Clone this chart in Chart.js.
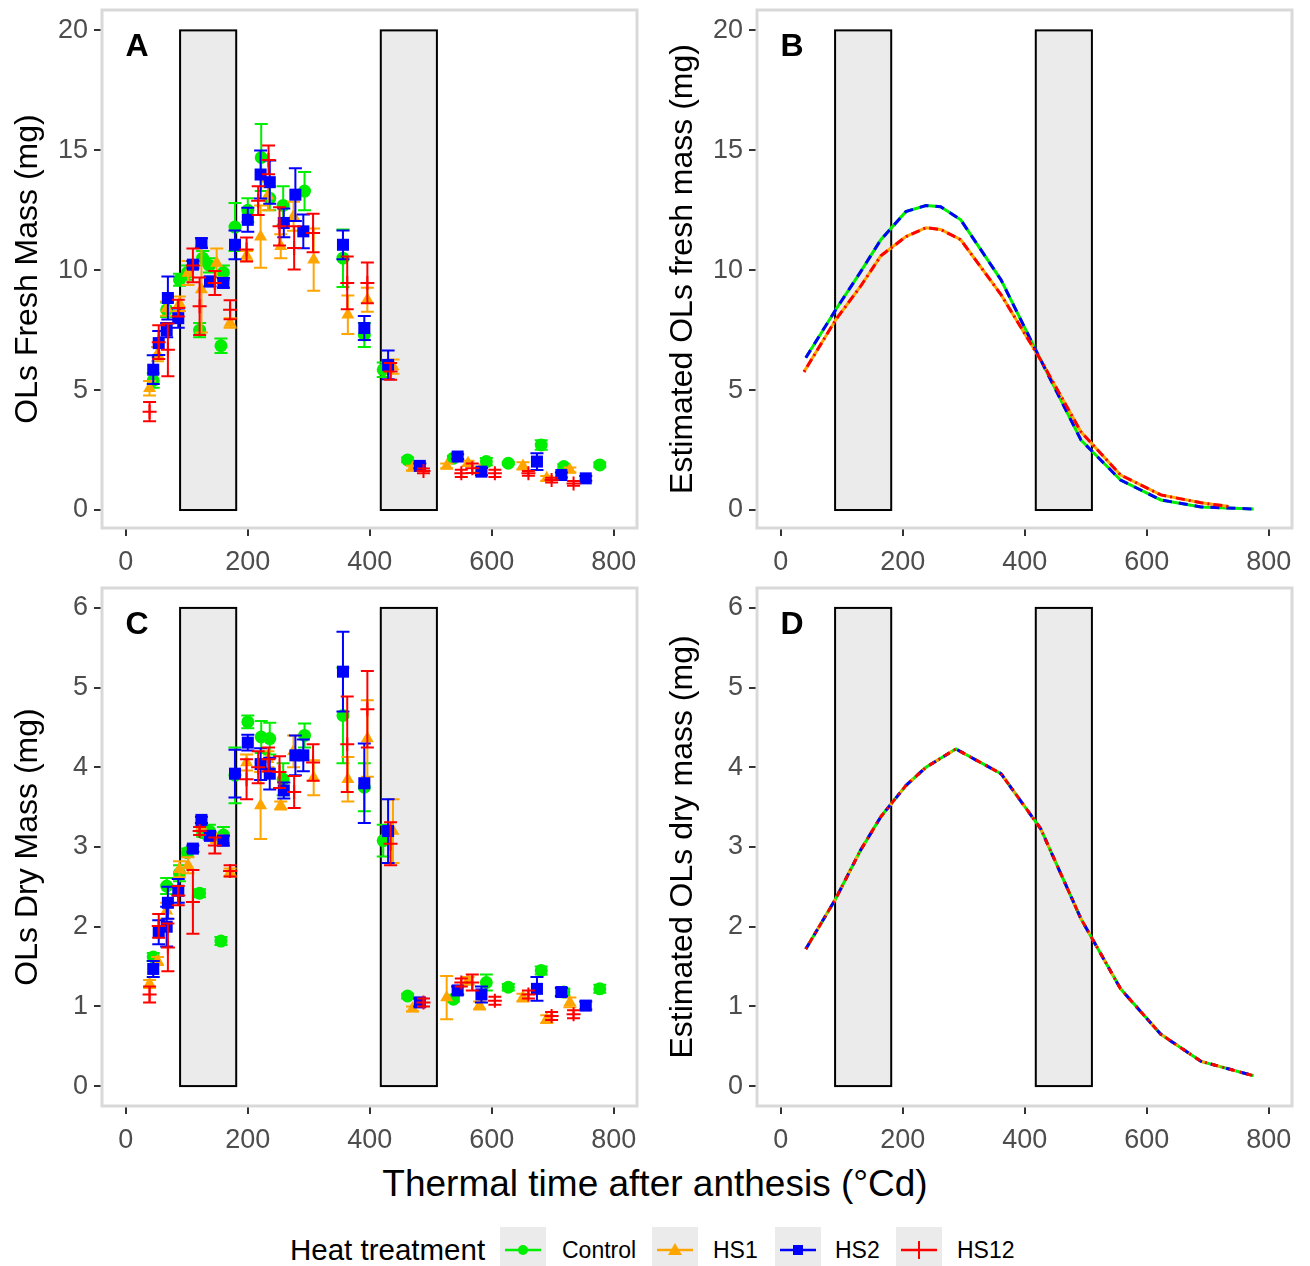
<!DOCTYPE html>
<html>
<head>
<meta charset="utf-8">
<script src="https://cdn.jsdelivr.net/npm/chart.js@4.4.0/dist/chart.umd.min.js"></script>
<style>
  body { margin: 0; background: #fff; width: 1310px; height: 1266px; position: relative; overflow: hidden;
         font-family: 'Liberation Sans', Arial, sans-serif; }
  .panel { position: absolute; width: 655px; height: 580px; }
  #xTitle { position: absolute; left: 0; width: 1310px; top: 1163px; text-align: center; font-size: 37px; color: #000; }
  .lg { position: absolute; top: 1250px; transform: translateY(-50%); white-space: nowrap; color: #000; }
  .key { position: absolute; top: 1227px; width: 46px; height: 46px; background: #ebebeb; }
</style>
</head>
<body>
<div class="panel" style="left:0;top:0"><canvas id="panelA"></canvas></div>
<div class="panel" style="left:655px;top:0"><canvas id="panelB"></canvas></div>
<div class="panel" style="left:0;top:580px"><canvas id="panelC"></canvas></div>
<div class="panel" style="left:655px;top:580px"><canvas id="panelD"></canvas></div>
<div id="xTitle">Thermal time after anthesis (°Cd)</div>

<div class="lg" style="left:290px;font-size:29.5px">Heat treatment</div>
<div class="key" style="left:500px"><svg width="46" height="46"><line x1="5" y1="23" x2="41" y2="23" stroke="#00ee00" stroke-width="2.5"/><circle cx="23" cy="23" r="5" fill="#00ee00"/></svg></div>
<div class="lg" style="left:562px;font-size:23px">Control</div>
<div class="key" style="left:652px"><svg width="46" height="46"><line x1="5" y1="23" x2="41" y2="23" stroke="#ffa500" stroke-width="2.5"/><polygon points="23,16 30,28 16,28" fill="#ffa500"/></svg></div>
<div class="lg" style="left:713px;font-size:23px">HS1</div>
<div class="key" style="left:775px"><svg width="46" height="46"><line x1="5" y1="23" x2="41" y2="23" stroke="#0000ff" stroke-width="2.5"/><rect x="18" y="18" width="10" height="10" fill="#0000ff"/></svg></div>
<div class="lg" style="left:835px;font-size:23px">HS2</div>
<div class="key" style="left:896px"><svg width="46" height="46"><line x1="5" y1="23" x2="41" y2="23" stroke="#ff0000" stroke-width="2.5"/><line x1="23" y1="14" x2="23" y2="32" stroke="#ff0000" stroke-width="2"/></svg></div>
<div class="lg" style="left:957px;font-size:23px">HS12</div>

<script>
const family = "'Liberation Sans', Arial, sans-serif";

// heat stress windows (°Cd)
const stressStart = [89, 418];
const stressEnd = [181, 510];

const xTicks = [0, 200, 400, 600, 800];
const freshTicks = [0, 5, 10, 15, 20];
const dryTicks = [0, 1, 2, 3, 4, 5, 6];

// observed values: thermal time, mean, standard error
const timeCtrl = [45, 67, 88, 101, 121, 126, 137, 156, 160, 179, 200, 222, 236, 258, 293, 356, 391, 422, 462, 537, 591, 627, 681, 718, 777];
const freshCtrl = [5.4, 8.35, 9.6, 9.9, 7.5, 10.5, 10.2, 6.85, 9.9, 11.8, 12.5, 14.7, 13.0, 12.7, 13.3, 10.5, 7.3, 5.85, 2.09, 2.16, 2.02, 1.95, 2.71, 1.81, 1.88];
const freshCtrlSe = [0.3, 0.3, 0.25, 0.3, 0.3, 0.3, 0.3, 0.3, 0.3, 1.0, 0.5, 1.4, 0.5, 0.8, 0.8, 1.2, 0.5, 0.3, 0.1, 0.1, 0.15, 0.05, 0.2, 0.1, 0.1];
const dryCtrl = [1.62, 2.51, 2.67, 2.93, 2.42, 3.18, 3.2, 1.82, 3.15, 3.9, 4.57, 4.38, 4.36, 3.85, 4.4, 4.65, 3.75, 3.08, 1.13, 1.09, 1.3, 1.24, 1.45, 1.18, 1.22];
const dryCtrlSe = [0.05, 0.1, 0.1, 0.05, 0.05, 0.05, 0.08, 0.05, 0.1, 0.35, 0.08, 0.2, 0.2, 0.2, 0.15, 0.6, 0.3, 0.2, 0.03, 0.03, 0.1, 0.04, 0.05, 0.04, 0.05];

const timeHS1 = [39, 52, 67, 88, 102, 124, 149, 171, 198, 221, 233, 254, 275, 308, 364, 396, 438, 470, 526, 561, 580, 651, 690, 728];
const freshHS1 = [5.08, 6.5, 8.4, 8.6, 9.88, 9.2, 10.3, 7.8, 10.6, 11.4, 13.1, 11.0, 12.25, 10.44, 8.14, 8.77, 5.98, 1.75, 1.84, 1.95, 1.65, 1.84, 1.32, 1.67];
const freshHS1Se = [0.3, 0.3, 0.3, 0.3, 0.5, 1.8, 0.6, 0.2, 0.2, 1.3, 0.6, 0.5, 0.6, 1.3, 0.8, 0.5, 0.3, 0.1, 0.1, 0.1, 0.1, 0.15, 0.1, 0.1];
const dryHS1 = [1.28, 1.57, 2.2, 2.72, 2.77, 3.25, 3.1, 2.68, 4.06, 3.52, 4.1, 3.52, 4.2, 3.87, 3.85, 4.36, 3.2, 0.97, 1.11, 1.32, 1.01, 1.11, 0.84, 1.05];
const dryHS1Se = [0.05, 0.05, 0.1, 0.1, 0.1, 0.05, 0.05, 0.05, 0.1, 0.42, 0.1, 0.05, 0.2, 0.22, 0.28, 0.48, 0.4, 0.03, 0.27, 0.05, 0.05, 0.05, 0.05, 0.06];

const timeHS2 = [45, 54, 67, 69, 86, 110, 124, 138, 160, 179, 200, 221, 236, 259, 278, 291, 356, 391, 430, 482, 544, 583, 674, 714, 754];
const freshHS2 = [5.85, 6.96, 7.5, 8.84, 8.0, 10.23, 11.13, 9.53, 9.47, 11.06, 12.1, 13.99, 13.67, 11.97, 13.15, 11.62, 11.06, 7.59, 6.05, 1.84, 2.23, 1.6, 2.02, 1.46, 1.32];
const freshHS2Se = [0.6, 0.5, 0.3, 0.9, 0.4, 0.15, 0.2, 0.2, 0.2, 0.6, 0.5, 1.0, 0.9, 0.6, 1.1, 0.7, 0.6, 0.5, 0.6, 0.1, 0.1, 0.15, 0.35, 0.1, 0.1];
const dryHS2 = [1.47, 1.93, 2.0, 2.3, 2.45, 2.98, 3.34, 3.14, 3.08, 3.92, 4.31, 4.04, 3.92, 3.71, 4.15, 4.15, 5.2, 3.8, 3.2, 1.05, 1.2, 1.15, 1.22, 1.18, 1.01];
const dryHS2Se = [0.1, 0.15, 0.25, 0.2, 0.15, 0.04, 0.04, 0.05, 0.06, 0.3, 0.1, 0.2, 0.2, 0.1, 0.25, 0.2, 0.5, 0.5, 0.4, 0.05, 0.05, 0.1, 0.15, 0.05, 0.05];

const timeHS12 = [39, 54, 69, 86, 110, 121, 146, 171, 198, 217, 234, 252, 276, 307, 363, 396, 434, 488, 550, 568, 605, 660, 698, 734];
const freshHS12 = [4.1, 7.0, 6.68, 8.42, 10.2, 8.5, 9.47, 8.35, 10.86, 12.9, 14.6, 11.83, 10.93, 11.55, 9.47, 9.47, 5.78, 1.63, 1.53, 1.74, 1.53, 1.53, 1.25, 1.11];
const freshHS12Se = [0.4, 0.7, 1.1, 0.35, 0.7, 1.2, 0.5, 0.4, 0.5, 0.6, 0.6, 0.8, 0.9, 0.8, 1.1, 0.85, 0.35, 0.1, 0.15, 0.2, 0.15, 0.1, 0.1, 0.1];
const dryHS12 = [1.15, 2.01, 1.74, 2.39, 2.31, 3.2, 3.02, 2.70, 3.85, 4.0, 4.1, 3.94, 3.69, 4.06, 4.29, 4.73, 3.04, 1.05, 1.3, 1.3, 1.07, 1.15, 0.88, 0.9];
const dryHS12Se = [0.1, 0.15, 0.3, 0.12, 0.4, 0.05, 0.1, 0.07, 0.25, 0.2, 0.15, 0.2, 0.2, 0.23, 0.6, 0.48, 0.27, 0.05, 0.05, 0.1, 0.05, 0.05, 0.05, 0.05];

// fitted curves
const fitTimeHigh = [41, 90, 130, 164, 205, 238, 262, 295, 361, 426, 492, 557, 623, 689, 775];
const fitFreshHigh = [6.35, 8.35, 9.9, 11.27, 12.44, 12.7, 12.65, 12.1, 9.6, 6.26, 2.92, 1.25, 0.42, 0.13, 0.04];
const fitTimeLow = [38, 90, 130, 164, 205, 238, 262, 295, 361, 426, 492, 557, 623, 689, 734];
const fitFreshLow = [5.76, 7.93, 9.3, 10.6, 11.4, 11.77, 11.7, 11.27, 8.98, 6.26, 3.26, 1.46, 0.63, 0.3, 0.15];
const fitTimeDry = [41, 90, 130, 164, 205, 238, 287, 361, 426, 492, 557, 623, 689, 775];
const fitDry = [1.72, 2.35, 2.95, 3.38, 3.77, 4.0, 4.23, 3.92, 3.23, 2.1, 1.22, 0.65, 0.31, 0.13];

const colCtrl = '#00ee00', colHS1 = '#ffa500', colHS2 = '#0000ff', colHS12 = '#ff0000';

const pts = (xs, ys) => xs.map((x, i) => ({ x: x, y: ys[i] }));

const errorBars = {
  id: 'errorBars',
  beforeDatasetDraw(chart, args) {
    const ds = chart.data.datasets[args.index];
    if (!ds.errors) return;
    const { ctx, scales: { x, y } } = chart;
    ctx.save();
    ctx.strokeStyle = ds.borderColor;
    ctx.lineWidth = 2;
    ds.data.forEach((p, i) => {
      const px = x.getPixelForValue(p.x);
      const top = y.getPixelForValue(p.y + ds.errors[i]);
      const bot = y.getPixelForValue(p.y - ds.errors[i]);
      ctx.beginPath();
      ctx.moveTo(px, top); ctx.lineTo(px, bot);
      ctx.moveTo(px - 6.5, top); ctx.lineTo(px + 6.5, top);
      ctx.moveTo(px - 6.5, bot); ctx.lineTo(px + 6.5, bot);
      ctx.stroke();
    });
    ctx.restore();
  }
};

const panelDeco = {
  id: 'panelDeco',
  beforeDatasetsDraw(chart, args, opts) {
    const { ctx, scales: { x, y } } = chart;
    ctx.save();
    stressStart.forEach((s, i) => {
      const l = x.getPixelForValue(s), r = x.getPixelForValue(stressEnd[i]);
      const t = y.getPixelForValue(opts.top), b = y.getPixelForValue(0);
      ctx.fillStyle = '#ebebeb';
      ctx.fillRect(l, t, r - l, b - t);
      ctx.strokeStyle = '#000';
      ctx.lineWidth = 2;
      ctx.strokeRect(l, t, r - l, b - t);
    });
    ctx.restore();
  },
  afterDraw(chart, args, opts) {
    const { ctx, chartArea: a } = chart;
    ctx.save();
    ctx.strokeStyle = '#d9d9d9';
    ctx.lineWidth = 3;
    ctx.strokeRect(a.left, a.top, a.right - a.left, a.bottom - a.top);
    ctx.fillStyle = '#000';
    ctx.font = 'bold 32px ' + family;
    ctx.textAlign = 'center';
    ctx.textBaseline = 'middle';
    ctx.fillText(opts.letter, a.left + 35, a.top + 37);
    ctx.restore();
  }
};

function scalesFor(yMin, yMax, yTicks, yTitle, xHeight) {
  return {
    x: {
      type: 'linear', min: -39, max: 838,
      afterBuildTicks: s => { s.ticks = xTicks.map(v => ({ value: v })); },
      afterFit: s => { s.height = xHeight; s.paddingLeft = 0; s.paddingRight = 0; },
      grid: { drawOnChartArea: false, drawTicks: true, tickLength: 8, color: '#333', lineWidth: 2 },
      border: { display: false },
      ticks: { color: '#4d4d4d', font: { size: 27, family: family }, padding: 10, maxRotation: 0 }
    },
    y: {
      type: 'linear', min: yMin, max: yMax,
      afterBuildTicks: s => { s.ticks = yTicks.map(v => ({ value: v })); },
      afterFit: s => { s.width = 102; s.paddingTop = 0; s.paddingBottom = 0; },
      grid: { drawOnChartArea: false, drawTicks: true, tickLength: 8, color: '#333', lineWidth: 2 },
      border: { display: false },
      ticks: { color: '#4d4d4d', font: { size: 27, family: family }, padding: 6 },
      title: { display: true, text: yTitle, color: '#000', font: { size: 32, family: family }, padding: { top: 9, bottom: 0 } }
    }
  };
}

function obsSet(label, xs, ys, se, color, style, radius, order) {
  return {
    label: label, data: pts(xs, ys), errors: se, order: order,
    borderColor: color, backgroundColor: color, pointStyle: style,
    pointRadius: radius, pointBorderWidth: style === 'cross' ? 2 : 0, showLine: false
  };
}

function fitSet(label, xs, ys, color, dash, order) {
  return {
    label: label, data: pts(xs, ys), order: order, borderColor: color, borderWidth: 3,
    borderDash: dash, pointRadius: 0, showLine: true, fill: false, tension: 0
  };
}

function makeChart(id, datasets, yMin, yMax, yTicks, yTitle, letter, top, shadeTop, xHeight) {
  return new Chart(document.getElementById(id), {
    type: 'scatter',
    data: { datasets: datasets },
    options: {
      responsive: false, animation: false, devicePixelRatio: 1,
      layout: { autoPadding: false, padding: { top: top, right: 18, left: 0, bottom: 0 } },
      plugins: { legend: { display: false }, tooltip: { enabled: false }, panelDeco: { letter: letter, top: shadeTop } },
      scales: scalesFor(yMin, yMax, yTicks, yTitle, xHeight)
    },
    plugins: [panelDeco, errorBars]
  });
}

document.querySelectorAll('canvas').forEach(c => { c.width = 655; c.height = 580; });

makeChart('panelA', [
  obsSet('Control', timeCtrl, freshCtrl, freshCtrlSe, colCtrl, 'circle', 6.5, 3),
  obsSet('HS1', timeHS1, freshHS1, freshHS1Se, colHS1, 'triangle', 7.5, 2),
  obsSet('HS2', timeHS2, freshHS2, freshHS2Se, colHS2, 'rect', 8.5, 1),
  obsSet('HS12', timeHS12, freshHS12, freshHS12Se, colHS12, 'cross', 7, 0)
], -0.75, 20.85, freshTicks, 'OLs Fresh Mass (mg)', 'A', 10, 20, 52);

makeChart('panelB', [
  fitSet('Control', fitTimeHigh, fitFreshHigh, colCtrl, [], 3),
  fitSet('HS1', fitTimeLow, fitFreshLow, colHS1, [], 2),
  fitSet('HS2', fitTimeHigh, fitFreshHigh, colHS2, [9, 7], 1),
  fitSet('HS12', fitTimeLow, fitFreshLow, colHS12, [2, 4, 9, 4], 0)
], -0.75, 20.85, freshTicks, 'Estimated OLs fresh mass (mg)', 'B', 10, 20, 52);

makeChart('panelC', [
  obsSet('Control', timeCtrl, dryCtrl, dryCtrlSe, colCtrl, 'circle', 6.5, 3),
  obsSet('HS1', timeHS1, dryHS1, dryHS1Se, colHS1, 'triangle', 7.5, 2),
  obsSet('HS2', timeHS2, dryHS2, dryHS2Se, colHS2, 'rect', 8.5, 1),
  obsSet('HS12', timeHS12, dryHS12, dryHS12Se, colHS12, 'cross', 7, 0)
], -0.25, 6.25, dryTicks, 'OLs Dry Mass (mg)', 'C', 8, 6, 54);

makeChart('panelD', [
  fitSet('Control', fitTimeDry, fitDry, colCtrl, [], 3),
  fitSet('HS1', fitTimeDry, fitDry, colHS1, [10, 6], 2),
  fitSet('HS2', fitTimeDry, fitDry, colHS2, [7, 9], 1),
  fitSet('HS12', fitTimeDry, fitDry, colHS12, [2, 5, 6, 5], 0)
], -0.25, 6.25, dryTicks, 'Estimated OLs dry mass (mg)', 'D', 8, 6, 54);
</script>
</body>
</html>
